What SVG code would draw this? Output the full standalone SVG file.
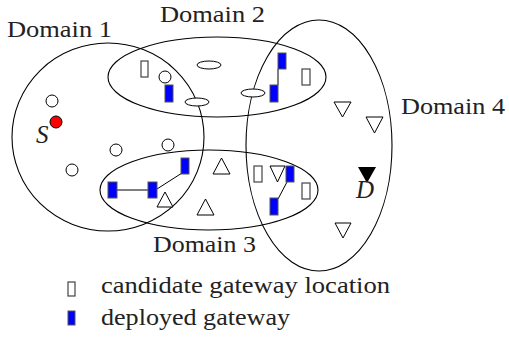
<svg xmlns="http://www.w3.org/2000/svg" width="509" height="339" viewBox="0 0 509 339">
<style>
.dom{fill:none;stroke:#000;stroke-width:1.1}
.lbl{font-family:"Liberation Serif","Times New Roman",serif;font-size:24px;fill:#222}
.it{font-family:"Liberation Serif","Times New Roman",serif;font-size:25px;font-style:italic;fill:#222}
.cand{fill:#fff;stroke:#444;stroke-width:1.2}
.dep{fill:#0000ff;stroke:#555;stroke-width:1}
.cir{fill:#fff;stroke:#000;stroke-width:1}
.tri{fill:#fff;stroke:#000;stroke-width:1}
.ell{fill:#fff;stroke:#000;stroke-width:1}
.con{stroke:#000;stroke-width:1;fill:none}
</style>
<rect width="509" height="339" fill="#fff"/>
<g id="domain1"><ellipse class="dom" cx="108" cy="137" rx="96" ry="94"/><text class="lbl" x="7" y="37" textLength="105" lengthAdjust="spacingAndGlyphs">Domain 1</text></g>
<g id="domain2"><ellipse class="dom" cx="217" cy="77" rx="109" ry="40"/><text class="lbl" x="160" y="22" textLength="105" lengthAdjust="spacingAndGlyphs">Domain 2</text></g>
<g id="domain3"><ellipse class="dom" cx="209" cy="190" rx="109" ry="40"/><text class="lbl" x="153" y="252" textLength="103" lengthAdjust="spacingAndGlyphs">Domain 3</text></g>
<g id="domain4"><ellipse class="dom" cx="319" cy="145.5" rx="73" ry="125.5"/><text class="lbl" x="401" y="114" textLength="104" lengthAdjust="spacingAndGlyphs">Domain 4</text></g>
<g id="connectors">
<line class="con" x1="278" y1="69" x2="278" y2="85"/>
<line class="con" x1="117" y1="190" x2="148" y2="190"/>
<line class="con" x1="157" y1="189" x2="182" y2="173"/>
<line class="con" x1="278" y1="199" x2="287" y2="182"/>
</g>
<g id="n-circles">
<circle class="cir" cx="52" cy="101" r="6"/>
<circle class="cir" cx="72" cy="170" r="6"/>
<circle class="cir" cx="116" cy="150" r="6"/>
<circle class="cir" cx="168" cy="145" r="6"/>
<circle class="cir" cx="165" cy="77" r="6"/>
</g>
<g id="n-source"><circle cx="56" cy="122" r="6" fill="#f00" stroke="#000" stroke-width="1"/><text class="it" x="36" y="143">S</text></g>
<g id="n-ellipses">
<ellipse class="ell" cx="209" cy="65" rx="12" ry="4"/>
<ellipse class="ell" cx="197" cy="102" rx="12" ry="4"/>
<ellipse class="ell" cx="253" cy="93" rx="12" ry="4"/>
</g>
<g id="n-candidates">
<rect class="cand" x="141" y="61" width="7" height="16"/>
<rect class="cand" x="302" y="69" width="8" height="16"/>
<rect class="cand" x="254" y="166" width="8" height="16"/>
<rect class="cand" x="302" y="183" width="8" height="16"/>
</g>
<g id="n-deployed">
<rect class="dep" x="165" y="85" width="8" height="17"/>
<rect class="dep" x="278" y="53" width="8" height="16"/>
<rect class="dep" x="270" y="85" width="8" height="17"/>
<rect class="dep" x="108" y="182" width="9" height="16"/>
<rect class="dep" x="148" y="182" width="9" height="16"/>
<rect class="dep" x="181" y="158" width="8" height="16"/>
<rect class="dep" x="286" y="166" width="8" height="16"/>
<rect class="dep" x="270" y="198" width="8" height="17"/>
</g>
<g id="n-triangles">
<polygon class="tri" points="157,207 173,207 165,192"/>
<polygon class="tri" points="197,215 214,215 205.5,199"/>
<polygon class="tri" points="213,174 230,174 221.5,158"/>
<polygon class="tri" points="270,166 285,166 277.5,182"/>
<polygon class="tri" points="334,102 351,102 342.5,117"/>
<polygon class="tri" points="366,117 383,117 374.5,133"/>
<polygon class="tri" points="335,223 351,223 343,238"/>
</g>
<g id="n-dest"><polygon points="358,167 376,167 367,183" fill="#000"/><text class="it" x="356" y="198">D</text></g>
<g id="legend">
<rect class="cand" x="68" y="282" width="7" height="14"/>
<text class="lbl" x="101" y="293" textLength="289" lengthAdjust="spacingAndGlyphs">candidate gateway location</text>
<rect class="dep" x="68" y="311" width="7" height="14"/>
<text class="lbl" x="101" y="325" textLength="189" lengthAdjust="spacingAndGlyphs">deployed gateway</text>
</g>
</svg>
